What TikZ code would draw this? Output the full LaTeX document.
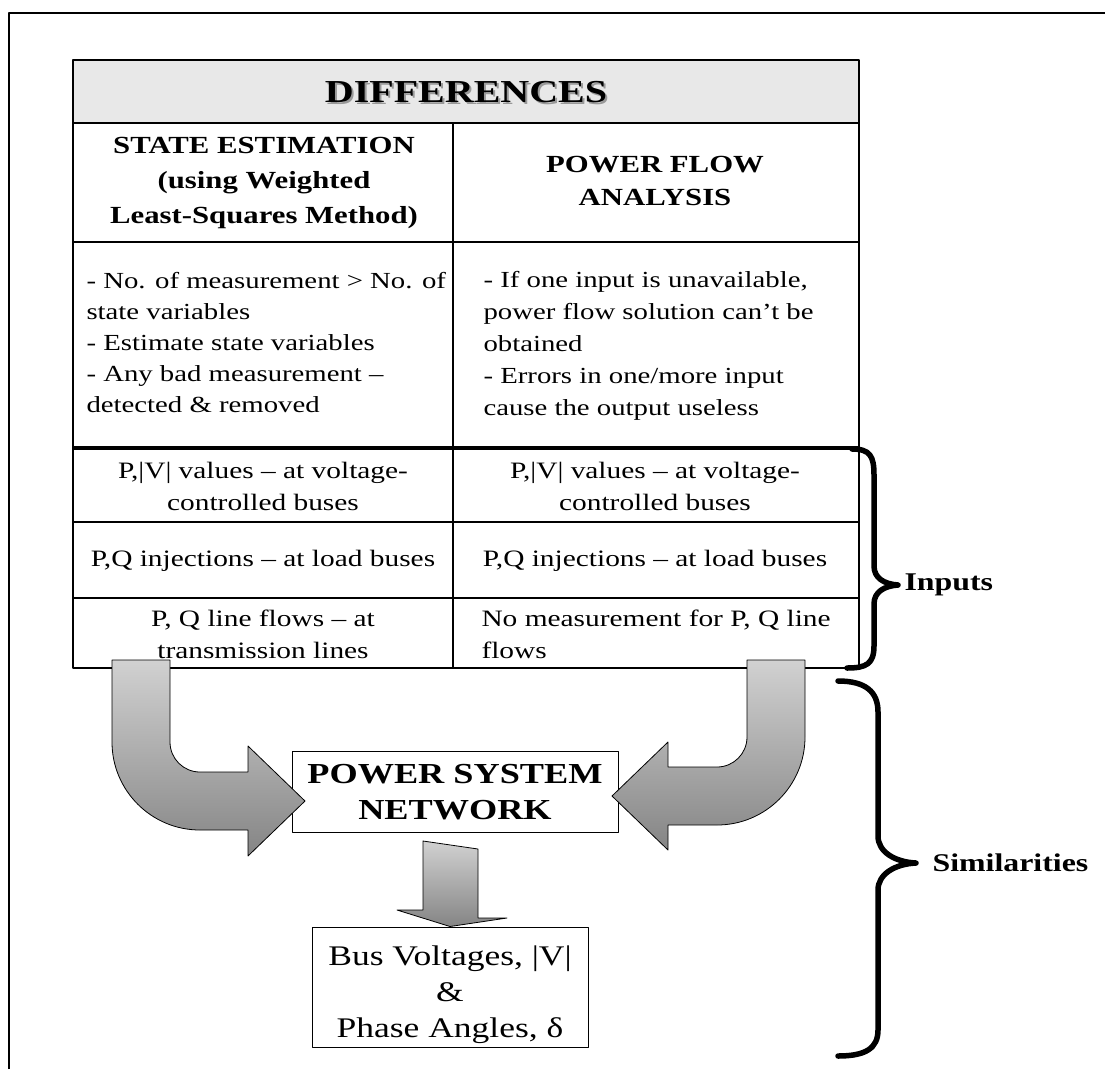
\documentclass[tikz,border=0pt]{standalone}
\usepackage{fontspec}
\setmainfont{Liberation Serif}[FakeStretch=1.25]
\usetikzlibrary{calc}
\tikzset{
  thinrule/.style={line width=1.3pt},
  bodytext/.style={font=\fontsize{23}{31}\selectfont},
  celltext/.style={font=\fontsize{23.5}{32}\selectfont, align=center},
  headtext/.style={font=\bfseries\fontsize{24.6}{35}\selectfont, align=center},
  bigarrow/.style={draw=black, line width=0.8pt, top color=black!18, bottom color=black!48},
  bracestroke/.style={line width=5.5pt, line cap=round},
  sidelabel/.style={font=\bfseries\fontsize{25.5}{30}\selectfont, anchor=west},
}
\begin{document}
\begin{tikzpicture}[x=1pt,y=-1pt,line join=round]
\useasboundingbox (0,0) rectangle (1105,1069);

% page frame
\draw[line width=2pt] (9,1069) -- (9,13) -- (1105,13);

% ---------- comparison table ----------
\fill[black!9] (73,60) rectangle (859,123);
\draw[thinrule] (73,123) -- (859,123);
\draw[thinrule] (73,242) -- (859,242);
\draw[thinrule] (73,522) -- (859,522);
\draw[thinrule] (73,598) -- (859,598);
\draw[thinrule] (453,123) -- (453,668);
\draw[line width=4pt] (73,448) -- (859,448);
\draw[line width=2.5pt] (73,60) rectangle (859,668);

\node[font=\bfseries\fontsize{32}{38}\selectfont, text=black!40] at (468,94) {DIFFERENCES};
\node[font=\bfseries\fontsize{32}{38}\selectfont] (diff) at (466,92) {DIFFERENCES};

\node[headtext] (se) at (264,183) {STATE ESTIMATION\\(using Weighted\\Least-Squares Method)};
\node[headtext, font=\bfseries\fontsize{24.6}{33}\selectfont] (pf) at (655,181) {POWER FLOW\\ANALYSIS};

\node[bodytext, align=left, anchor=west] (seprop) at (83,343)
  {- No. of measurement > No. of\\state variables\\- Estimate state variables\\- Any bad measurement --\\detected \& removed};
\node[bodytext, font=\fontsize{23}{32}\selectfont, align=left, anchor=west] (pfprop) at (480,346)
  {- If one input is unavailable,\\power flow solution can’t be\\obtained\\- Errors in one/more input\\cause the output useless};

\node[celltext] (pvl) at (263,486) {P,|V| values -- at voltage-\\controlled buses};
\node[celltext] (pvr) at (655,486) {P,|V| values -- at voltage-\\controlled buses};
\node[celltext] (pql) at (263,561) {P,Q injections -- at load buses};
\node[celltext] (pqr) at (655,561) {P,Q injections -- at load buses};
\node[celltext] (lfl) at (263,634) {P, Q line flows -- at\\transmission lines};
\node[celltext, align=left, anchor=west] (lfr) at (478,634) {No measurement for P, Q line\\flows};

% ---------- network and results ----------
\node[draw, line width=1pt, minimum width=326pt, minimum height=81pt, align=center,
      font=\bfseries\fontsize{29}{36}\selectfont] (psn) at (455,792) {POWER SYSTEM\\NETWORK};
\node[draw, line width=1pt, minimum width=276pt, minimum height=120pt] (out) at (450,987) {};
\node[align=center, font=\fontsize{28.4}{36}\selectfont] (outtext) at (450,995)
  {Bus Voltages, |V|\\\&\\Phase Angles, δ};

% curved input arrow from the state-estimation column
\draw[bigarrow] (112,660) -- (112,742) .. controls (112,790.6) and (151.4,830) .. (200,830)
  -- (248,830) -- (248,856) -- (305,801) -- (248,746) -- (248,772) -- (200,772)
  .. controls (183.4,772) and (170,758.6) .. (170,742) -- (170,660) -- cycle;

% curved input arrow from the power-flow column
\draw[bigarrow] (747,660) -- (747,737) .. controls (747,753.6) and (733.6,767) .. (717,767)
  -- (668,767) -- (668,742) -- (612,796) -- (668,850) -- (668,825) -- (717,825)
  .. controls (765.6,825) and (805,785.6) .. (805,737) -- (805,660) -- cycle;

% output arrow from the network to the results
\path (psn.south) ++(-5,8) coordinate (dtop);
\path (out.north) coordinate (dtip);
\draw[bigarrow] (dtop) ++(-27,0) -- ++(0,69) -- ++(-26,0) -- (dtip) -- ($(dtop)+(57,77)$)
  -- ++(-29,0) -- ++(0,-69) -- cycle;

% braces
\draw[bracestroke] (852,449) .. controls (870,449) and (874,456) .. (874,475) -- (874,566)
  .. controls (874,578) and (884,584) .. (898,585) .. controls (884,586) and (874,592) .. (874,604)
  -- (874,646) .. controls (874,664) and (866,668) .. (847,668);
\node[sidelabel] (inputs) at (901,585) {Inputs};

\draw[bracestroke] (838,681) .. controls (866,681) and (878,692) .. (878,712) -- (878,836)
  .. controls (878,852) and (895,862) .. (916,863) .. controls (895,864) and (878,874) .. (878,890)
  -- (878,1030) .. controls (878,1048) and (866,1056) .. (838,1056);
\node[sidelabel] (simil) at (929,863) {Similarities};
\end{tikzpicture}
\end{document}
